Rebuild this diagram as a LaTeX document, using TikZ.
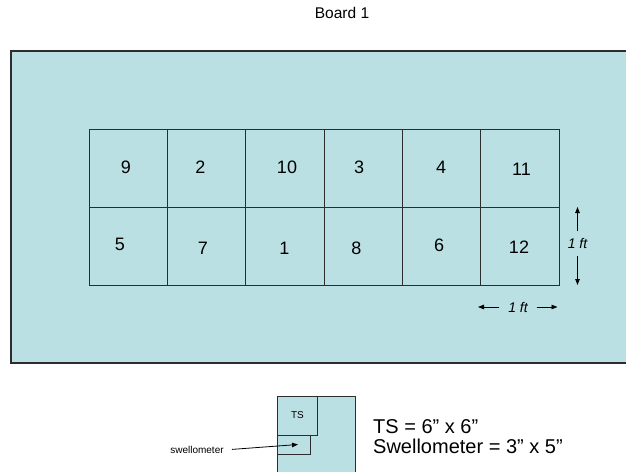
\documentclass[tikz,border=0pt]{standalone}
\usepackage{fontspec}
\setmainfont{Liberation Sans}
\usetikzlibrary{arrows.meta}
\definecolor{boardfill}{RGB}{187,224,227}
\definecolor{edgecol}{RGB}{45,45,45}
\tikzset{
  boardbox/.style={fill=boardfill, draw=edgecol, line width=1.5pt},
  cellbox/.style={draw=edgecol, line width=0.9pt, inner sep=0pt, minimum width=78.33pt, minimum height=78pt, anchor=north west},
  num/.style={font=\fontsize{18}{18}\selectfont, inner sep=0pt},
  dimlabel/.style={font=\fontsize{14}{14}\selectfont\itshape, inner sep=0pt},
  dimarrow/.style={-{Triangle[length=6pt,width=4.5pt]}, line width=0.8pt},
  smallbox/.style={fill=boardfill, draw=edgecol, line width=0.9pt, inner sep=0pt, anchor=north west},
  smalltext/.style={font=\fontsize{10}{10}\selectfont, inner sep=0pt},
  legend/.style={font=\fontsize{20}{20}\selectfont, inner sep=0pt, anchor=base west},
  titletext/.style={font=\fontsize{15.5}{16}\selectfont, inner sep=0pt}
}
\begin{document}
\begin{tikzpicture}[x=1pt,y=-1pt]
\useasboundingbox (0,0) rectangle (626,471);
\clip (0,0) rectangle (626,471);
\fill[white] (0,0) rectangle (626,471);

% title
\node[titletext] (title) at (342,13) {Board 1};

% board
\draw[boardbox] (11,51) rectangle (700,363);

% grid cells
\foreach \i in {0,...,5} {
  \node[cellbox] (top\i) at ({88.8+78.33*\i},129) {};
  \node[cellbox] (bot\i) at ({88.8+78.33*\i},207) {};
}

% numbers
\node[num] (n9)  at (126,167) {9};
\node[num] (n2)  at (200.5,167) {2};
\node[num] (n10) at (287,167) {10};
\node[num] (n3)  at (359,167) {3};
\node[num] (n4)  at (441,167) {4};
\node[num] (n11) at (521.5,169.5) {11};
\node[num] (n5)  at (120,244) {5};
\node[num] (n7)  at (203,248) {7};
\node[num] (n1)  at (284.5,248) {1};
\node[num] (n8)  at (356.5,248) {8};
\node[num] (n6)  at (439,245.5) {6};
\node[num] (n12) at (519,247.5) {12};

% 1 ft dimensions
\node[dimlabel, minimum height=25pt] (vft) at (577.5,243.5) {1 ft};
\coordinate (vtop) at (577.5,207);
\coordinate (vbot) at (577.5,285);
\draw[dimarrow] (vft.north) -- (vtop);
\draw[dimarrow] (vft.south) -- (vbot);

\node[dimlabel, minimum width=37pt] (hft) at (518,307) {1 ft};
\coordinate (hleft) at (478,307);
\coordinate (hright) at (557.5,307);
\draw[dimarrow] (hft.west) -- (hleft);
\draw[dimarrow] (hft.east) -- (hright);

% legend sketch
\node[smallbox, minimum width=78pt, minimum height=85pt] (holder) at (277.3,395.5) {};
\node[smallbox, minimum width=39.2pt, minimum height=39pt] (tsbox) at (277.3,395.5) {};
\node[smalltext] (tslabel) at (297.5,415.5) {TS};
\node[smallbox, minimum width=32.7pt, minimum height=19.5pt] (swbox) at (277.3,434.5) {};
\node[smalltext] (swlabel) at (197,450) {swellometer};
\coordinate (swtip) at (298,444.5);
\draw[-{Triangle[length=6pt,width=4.5pt]}, line width=0.8pt, shorten <=8pt] (swlabel.east) -- (swtip);

\node[legend] (leg1) at (373,433) {TS = 6” x 6”};
\node[legend] (leg2) at (373,453) {Swellometer = 3” x 5”};
\end{tikzpicture}
\end{document}
